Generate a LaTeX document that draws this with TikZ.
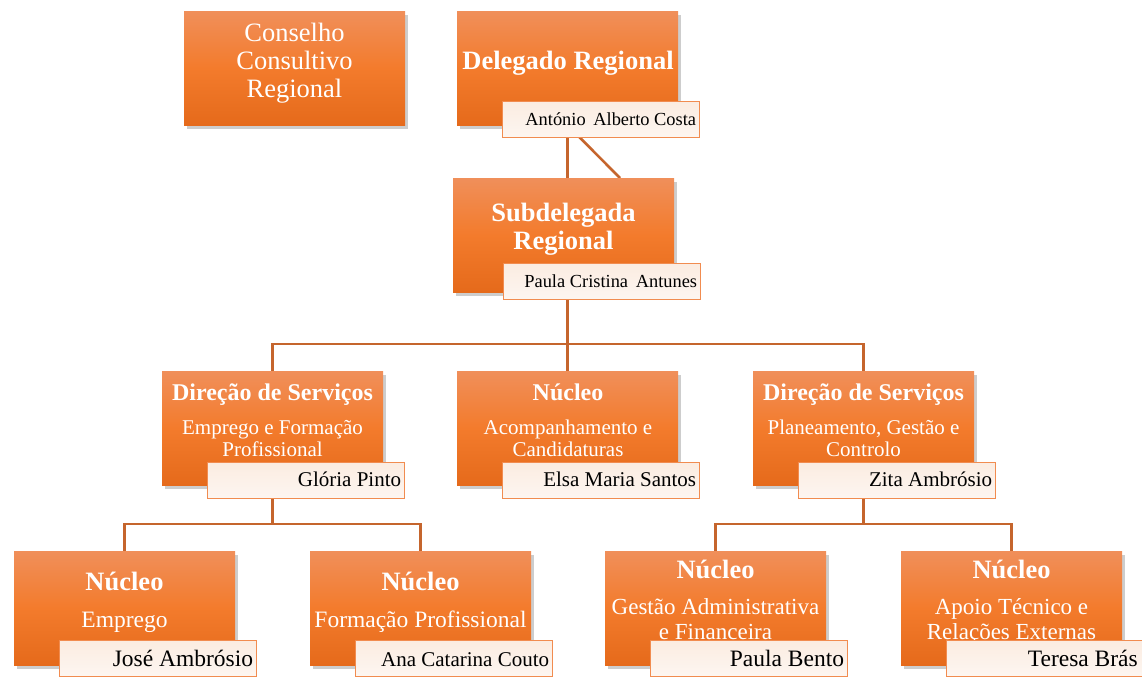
\documentclass[tikz,border=0pt]{standalone}
\usepackage{fontspec}
\setmainfont{Liberation Serif}
\usetikzlibrary{shadows}
\pgfdeclarelayer{background}
\pgfsetlayers{background,main}
\definecolor{orTop}{RGB}{240,143,90}
\definecolor{orMid}{RGB}{243,123,44}
\definecolor{orBot}{RGB}{229,106,27}
\definecolor{nmTop}{RGB}{251,236,225}
\definecolor{nmBot}{RGB}{253,246,241}
\definecolor{nmLine}{RGB}{241,140,80}
\definecolor{conn}{RGB}{197,101,45}
\newcommand\fTitle{\fontsize{26.5}{28}\selectfont}
\newcommand\fHead{\fontsize{24}{26}\selectfont}
\newcommand\fSubB{\fontsize{21}{22}\selectfont}
\newcommand\fSubC{\fontsize{23.5}{25}\selectfont}
\newcommand\fSubD{\fontsize{23}{24}\selectfont}
\newcommand\fNameA{\fontsize{18.4}{20}\selectfont}
\begin{document}
\begin{tikzpicture}[x=1pt,y=-1pt,
  obox/.style={anchor=north west, minimum width=221pt, minimum height=114pt, inner sep=0pt,
    top color=orTop, bottom color=orBot, middle color=orMid,
    drop shadow={shadow xshift=3pt, shadow yshift=-4pt, opacity=0.28, fill=black!70}},
  nbox/.style={anchor=north west, minimum width=197pt, minimum height=36pt, inner sep=0pt,
    top color=nmTop, bottom color=nmBot, draw=nmLine, line width=1.3pt},
  wt/.style={anchor=base, text=white, inner sep=0pt},
  nt/.style={anchor=base east, text=black, inner sep=0pt},
  cline/.style={draw=conn, line width=2.6pt}
]
\useasboundingbox (0,0) rectangle (1142,677);

% main boxes
\node[obox] (cc) at (184,11) {};
\node[obox] (dr) at (457,11) {};
\node[obox] (sd) at (453,178) {};
\node[obox] (d1) at (162,371) {};
\node[obox] (na) at (457,371) {};
\node[obox] (d2) at (753,371) {};
\node[obox] (n1) at (14,551) {};
\node[obox] (n2) at (310,551) {};
\node[obox] (n3) at (605,551) {};
\node[obox] (n4) at (901,551) {};

% coordinates for buses
\coordinate (bus1) at (0,344);
\coordinate (bus2) at (0,524);
\coordinate (asst) at (620,178);

% connectors
\begin{pgfonlayer}{background}
\draw[cline] (dr.south) -- (dr.south |- sd.north);
\draw[cline] (dr.south) -- (asst);
\draw[cline] (na.north |- sd.south) -- (na.north);
\draw[cline] (d1.north) -- (d1.north |- bus1) -- (d2.north |- bus1) -- (d2.north);
\draw[cline] (d1.south) -- (d1.south |- bus2);
\draw[cline] (n1.north) -- (n1.north |- bus2) -- (n2.north |- bus2) -- (n2.north);
\draw[cline] (d2.south) -- (d2.south |- bus2);
\draw[cline] (n3.north) -- (n3.north |- bus2) -- (n4.north |- bus2) -- (n4.north);
\end{pgfonlayer}

% white texts
\node[wt] (cc1) at (294.5,41.5) {\fTitle Conselho};
\node[wt] (cc2) at (294.5,69.5) {\fTitle Consultivo};
\node[wt] (cc3) at (294.5,97.5) {\fTitle Regional};
\node[wt] (dr1) at (568,69.5) {\fTitle\bfseries Delegado Regional};
\node[wt] (sd1) at (563.5,221.5) {\fTitle\bfseries Subdelegada};
\node[wt] (sd2) at (563.5,249.5) {\fTitle\bfseries Regional};

\node[wt] (d1a) at (272.5,400.5) {\fHead\bfseries Direção de Serviços};
\node[wt] (d1b) at (272.5,434) {\fSubB Emprego e Formação};
\node[wt] (d1c) at (272.5,456) {\fSubB Profissional};
\node[wt] (naa) at (568,400.5) {\fHead\bfseries Núcleo};
\node[wt] (nab) at (568,434) {\fSubB Acompanhamento e};
\node[wt] (nac) at (568,456) {\fSubB Candidaturas};
\node[wt] (d2a) at (863.5,400.5) {\fHead\bfseries Direção de Serviços};
\node[wt] (d2b) at (863.5,434) {\fSubB Planeamento, Gestão e};
\node[wt] (d2c) at (863.5,456) {\fSubB Controlo};

\node[wt] (n1a) at (124.5,590.5) {\fTitle\bfseries Núcleo};
\node[wt] (n1b) at (124.5,627.5) {\fSubC Emprego};
\node[wt] (n2a) at (420.5,590.5) {\fTitle\bfseries Núcleo};
\node[wt] (n2b) at (420.5,627.5) {\fSubC Formação Profissional};
\node[wt] (n3a) at (715.5,578.5) {\fTitle\bfseries Núcleo};
\node[wt] (n3b) at (715.5,614.5) {\fSubD Gestão Administrativa};
\node[wt] (n3c) at (715.5,639) {\fSubD e Financeira};
\node[wt] (n4a) at (1011.5,578.5) {\fTitle\bfseries Núcleo};
\node[wt] (n4b) at (1011.5,614.5) {\fSubD Apoio Técnico e};
\node[wt] (n4c) at (1011.5,639) {\fSubD Relações Externas};

% name boxes
\node[nbox] (drn) at (502,101) {};
\node[nbox] (sdn) at (503,263) {};
\node[nbox] (d1n) at (207,462) {};
\node[nbox] (nan) at (502,462) {};
\node[nbox] (d2n) at (798,462) {};
\node[nbox] (n1n) at (59,640) {};
\node[nbox] (n2n) at (355,640) {};
\node[nbox] (n3n) at (650,640) {};
\node[nbox] (n4n) at (946,640) {};

% names
\node[nt] (drt) at ([xshift=-4pt]drn.east |- 0,125.5) {\fNameA António\, Alberto Costa};
\node[nt] (sdt) at ([xshift=-4pt]sdn.east |- 0,287) {\fNameA Paula Cristina\, Antunes};
\node[nt] (d1t) at ([xshift=-4pt]d1n.east |- 0,486) {\fSubB Glória Pinto};
\node[nt] (nat) at ([xshift=-4pt]nan.east |- 0,486) {\fSubB Elsa Maria Santos};
\node[nt] (d2t) at ([xshift=-4pt]d2n.east |- 0,486) {\fSubB Zita Ambrósio};
\node[nt] (n1t) at ([xshift=-4pt]n1n.east |- 0,666) {\fSubC José Ambrósio};
\node[nt] (n2t) at ([xshift=-4pt]n2n.east |- 0,666) {\fSubB Ana Catarina Couto};
\node[nt] (n3t) at ([xshift=-4pt]n3n.east |- 0,666) {\fSubC Paula Bento};
\node[nt] (n4t) at (1138,666) {\fSubC Teresa Brás};
\end{tikzpicture}
\end{document}
